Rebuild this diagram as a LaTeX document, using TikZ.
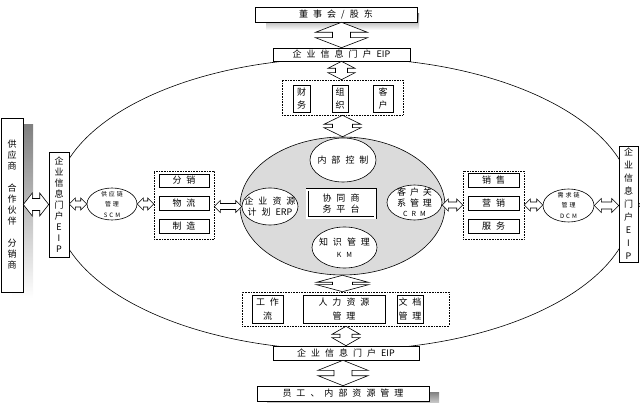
\documentclass[tikz,border=0pt]{standalone}
\usepackage{fontspec}
\setmainfont{Noto Sans CJK SC}
\usetikzlibrary{shapes.geometric,calc}
\definecolor{shade}{gray}{0.78}
\definecolor{corefill}{gray}{0.86}
%% hollow double arrow: from, to, head length, head half width, stem half width
\newcommand\dblarr[5]{%
  \coordinate (da) at (#1);
  \coordinate (db) at (#2);
  \draw[blockarrow] (da)
    -- ($(da)!#3!(db)!#4!90:(db)$) -- ($(da)!#3!(db)!#5!90:(db)$)
    -- ($(db)!#3!(da)!#5!-90:(da)$) -- ($(db)!#3!(da)!#4!-90:(da)$)
    -- (db)
    -- ($(db)!#3!(da)!#4!90:(da)$) -- ($(db)!#3!(da)!#5!90:(da)$)
    -- ($(da)!#3!(db)!#5!-90:(db)$) -- ($(da)!#3!(db)!#4!-90:(db)$)
    -- cycle;}
\begin{document}
\begin{tikzpicture}[x=1pt,y=-1pt,line width=0.6pt,
    tfont/.style n args={3}{font={\fontsize{#1}{#2}\selectfont\spaceskip=#3\relax}},
    box/.style={draw,fill=white,inner sep=0pt,align=center,tfont={9pt}{11pt}{5pt}},
    group/.style={draw,densely dotted,inner sep=0pt},
    oval/.style={draw,fill=white,ellipse,inner sep=0pt},
    txt/.style={inner sep=0pt,align=center,tfont={9pt}{11.5pt}{5pt}},
    blockarrow/.style={draw,fill=white,line join=miter}]
    \useasboundingbox (0,0) rectangle (640,403);
    %% outer ring and core
    \node[draw,ellipse,minimum width=578pt,minimum height=292pt] (ring) at (344,204) {};
    \node[draw,ellipse,fill=corefill,inner sep=0pt,minimum width=205pt,minimum height=138pt] (core) at (342.5,206) {};
    %% top
    \fill[shade] (266,14) rectangle (419,30);
    \node[box,minimum width=162pt,minimum height=15pt] (board) at (336,14.5) {董 事 会 / 股 东};
    \node[box,minimum width=137pt,minimum height=13pt] (eiptop) at (341.5,54.5) {企 业 信 息 门 户 EIP};
    \node[group,minimum width=121pt,minimum height=35pt] (topgrp) at (342.5,97.5) {};
    \node[box,tfont={9pt}{13pt}{5pt},minimum width=17pt,minimum height=27pt] (fin) at (301.5,98.5) {财\\务};
    \node[box,tfont={9pt}{13pt}{5pt},minimum width=16pt,minimum height=27pt] (org) at (340,98.5) {组\\织};
    \node[box,tfont={9pt}{13pt}{5pt},minimum width=20pt,minimum height=27pt] (cust) at (383,98.5) {客\\户};
    %% core modules
    \node[oval,minimum width=66pt,minimum height=44pt] (ctrl) at (343,160) {};
    \node[txt] (ctrl-t) at (ctrl) {内 部 控 制};
    \node[oval,minimum width=56pt,minimum height=37pt] (erp) at (270,206.5) {};
    \node[txt] (erp-t) at (erp) {企 业 资 源\\计 划 ERP};
    \node[box,double,double distance=1.8pt,minimum width=68pt,minimum height=28pt] (platform) at (341,204) {协 同 商\\务 平 台};
    \node[oval,minimum width=55pt,minimum height=35pt] (crm) at (414.5,202.5) {};
    \node[txt,tfont={9pt}{10.5pt}{4pt}] (crm-t) at (crm) {客 户 关\\系 管 理\\{\fontsize{7pt}{8pt}\selectfont C R M}};
    \node[oval,minimum width=65pt,minimum height=41pt] (km) at (344.5,247.5) {};
    \node[txt] (km-t) at (km) {知 识 管 理\\{\fontsize{7pt}{8pt}\selectfont K M}};
    %% left side
    \fill[shade] (12,125) rectangle (33,298);
    \node[box,minimum width=22pt,minimum height=174pt] (partner) at (12,205) {供\\应\\商\\[11pt]合\\作\\伙\\伴\\[11pt]分\\销\\商};
    \node[box,minimum width=20pt,minimum height=105pt] (eipleft) at (59,204.5) {企\\业\\信\\息\\门\\户\\E\\I\\P};
    \node[oval,minimum width=50pt,minimum height=32pt] (scm) at (112,204) {};
    \node[txt,tfont={6pt}{10.5pt}{2pt}] (scm-t) at (scm) {供 应 链\\管 理\\S C M};
    \node[group,minimum width=60pt,minimum height=68pt] (leftgrp) at (184,205) {};
    \node[box,minimum width=50pt,minimum height=13pt] (dist) at (184,180.5) {分 销};
    \node[box,minimum width=50pt,minimum height=14pt] (logi) at (184,203) {物 流};
    \node[box,minimum width=50pt,minimum height=14pt] (manu) at (184,226) {制 造};
    %% right side
    \node[group,minimum width=61pt,minimum height=68pt] (rightgrp) at (493.5,205) {};
    \node[box,minimum width=51pt,minimum height=14pt] (sales) at (493.5,180) {销 售};
    \node[box,minimum width=51pt,minimum height=14pt] (mkt) at (493.5,203) {营 销};
    \node[box,minimum width=51pt,minimum height=14pt] (serv) at (493.5,226) {服 务};
    \node[oval,minimum width=51pt,minimum height=33pt] (dcm) at (568.5,205.5) {};
    \node[txt,tfont={6pt}{10.5pt}{2pt}] (dcm-t) at (dcm) {需 求 链\\管 理\\D C M};
    \node[box,tfont={9pt}{13pt}{5pt},minimum width=19pt,minimum height=116pt] (eipright) at (628.5,204) {企\\业\\信\\息\\门\\户\\E\\I\\P};
    \coordinate (offright) at (662,205);
    %% bottom
    \node[group,minimum width=207pt,minimum height=34pt] (botgrp) at (345.5,309) {};
    \node[box,tfont={9pt}{14pt}{5pt},minimum width=31pt,minimum height=28pt] (wf) at (267.5,309) {工 作\\流};
    \node[box,tfont={9pt}{14pt}{5pt},minimum width=82pt,minimum height=28pt] (hr) at (344,309) {人 力 资 源\\管 理};
    \node[box,tfont={9pt}{14pt}{5pt},minimum width=26pt,minimum height=28pt] (doc) at (410,309) {文 档\\管 理};
    \node[box,minimum width=146pt,minimum height=14pt] (eipbot) at (346,353) {企 业 信 息 门 户 EIP};
    \fill[shade] (267,392) rectangle (439,410);
    \node[box,minimum width=172pt,minimum height=15pt] (staff) at (343,393.5) {员 工 、 内 部 资 源 管 理};
    %% vertical arrows
    \dblarr{board.south -| eiptop.north}{eiptop.north}{10pt}{26pt}{9pt}
    \dblarr{eiptop.south}{topgrp.north -| eiptop.south}{7pt}{13.5pt}{6pt}
    \dblarr{topgrp.south}{core.north -| topgrp.south}{9pt}{18.5pt}{10pt}
    \dblarr{core.south}{botgrp.north -| core.south}{7pt}{26pt}{10pt}
    \dblarr{botgrp.south -| eipbot.north}{eipbot.north}{8pt}{14pt}{6pt}
    \dblarr{eipbot.south -| staff.north}{staff.north}{10pt}{25pt}{9pt}
    %% horizontal arrows
    \dblarr{partner.east |- eipleft.west}{eipleft.west}{9pt}{11.5pt}{6pt}
    \dblarr{eipleft.east |- scm.west}{scm.west}{6pt}{6pt}{3pt}
    \dblarr{scm.east}{leftgrp.west |- scm.east}{6pt}{6pt}{3pt}
    \dblarr{leftgrp.east |- erp.west}{erp.west}{6pt}{6pt}{3pt}
    \dblarr{rightgrp.west -| crm.east}{rightgrp.west}{6pt}{6pt}{3pt}
    \dblarr{rightgrp.east}{dcm.west |- rightgrp.east}{6pt}{6pt}{3pt}
    \dblarr{dcm.east}{eipright.west |- dcm.east}{7pt}{7pt}{3.5pt}
    \dblarr{eipright.east |- offright}{offright}{7pt}{7pt}{3.5pt}
\end{tikzpicture}
\end{document}
